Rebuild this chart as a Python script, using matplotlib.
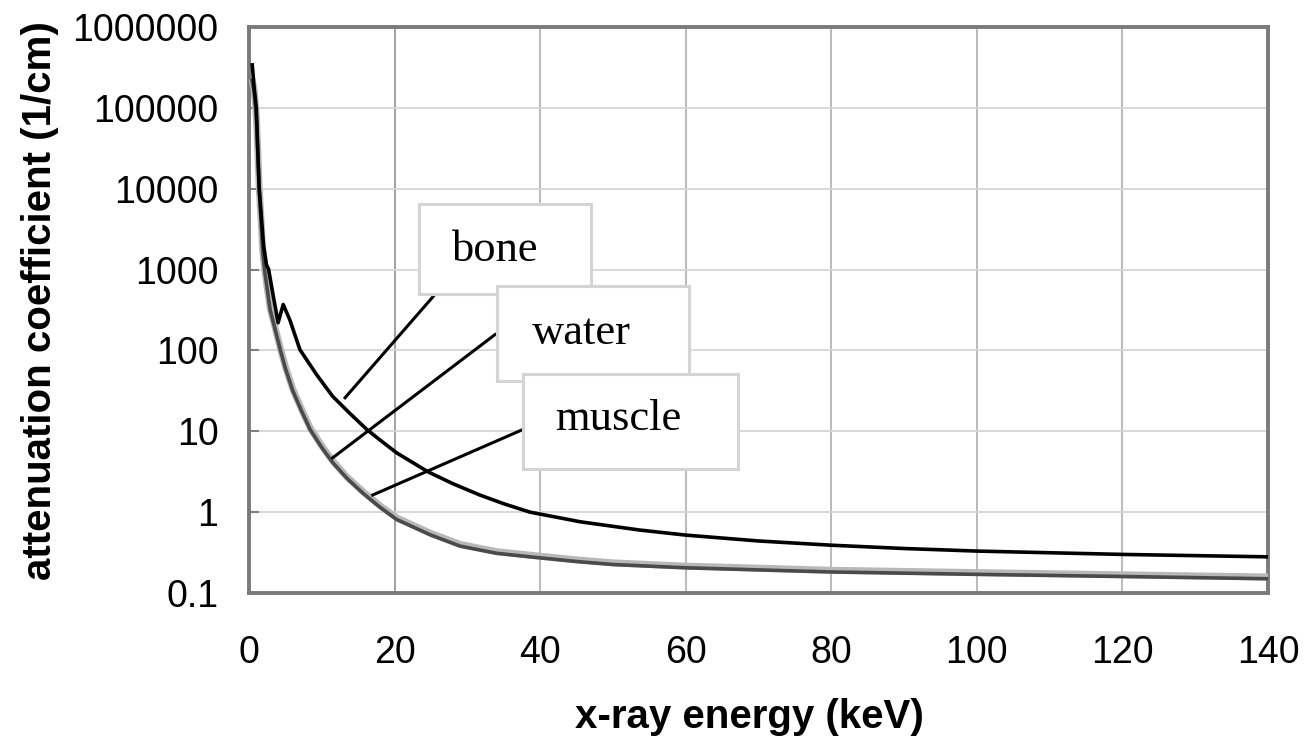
import matplotlib
matplotlib.use('Agg')
import matplotlib.pyplot as plt
from matplotlib.patches import Rectangle

plt.rcParams['font.family'] = ['Liberation Sans', 'DejaVu Sans']

# Attenuation coefficient (1/cm) vs photon energy (keV)
bone_E = [0.45, 0.7, 1.0, 1.4, 2.0, 2.4, 2.7, 3.3, 4.0, 4.7, 5.6, 7.0, 9.3, 11.5, 13.9, 16.2,
          18.0, 20.3, 24.6, 28.0, 31.7, 35.0, 38.6, 45.5, 53.7, 60, 70, 80, 90, 100, 120, 140]
bone_mu = [3.4e5, 1.8e5, 1.0e5, 1.0e4, 2000, 1150, 1000, 490, 220, 370, 240, 102, 50, 27, 16.5, 10.5,
           7.8, 5.4, 3.15, 2.25, 1.63, 1.27, 1.0, 0.76, 0.60, 0.52, 0.44, 0.39, 0.355, 0.33, 0.30, 0.28]

water_E = [0.4, 0.7, 1.0, 1.4, 1.9, 2.2, 2.9, 4.3, 5.0, 6.0, 7.2, 8.4, 10.0, 11.5, 13.5, 15.7,
           18.0, 20.3, 25, 29, 34, 38.6, 45, 50, 60, 70, 80, 100, 120, 140]
water_mu = [2.2e5, 1.6e5, 8.0e4, 1.0e4, 1600, 900, 320, 102, 60, 32, 18, 10.5, 6.3, 4.1, 2.6, 1.7,
            1.15, 0.81, 0.52, 0.38, 0.31, 0.28, 0.245, 0.225, 0.205, 0.193, 0.182, 0.17, 0.16, 0.15]
muscle_mu = [2.3e5, 1.7e5, 8.4e4, 1.05e4, 1680, 945, 335, 107, 63, 33.5, 18.9, 11, 6.6, 4.3, 2.7, 1.78,
             1.2, 0.85, 0.545, 0.4, 0.325, 0.294, 0.257, 0.236, 0.215, 0.203, 0.191, 0.179, 0.168, 0.158]

xticks = [0, 20, 40, 60, 80, 100, 120, 140]
yticks = [0.1, 1, 10, 100, 1000, 10000, 100000, 1000000]
ytick_labels = ['0.1', '1', '10', '100', '1000', '10000', '100000', '1000000']

fig = plt.figure(figsize=(13.05, 7.36), dpi=100)
ax = fig.add_axes([0.1908, 0.1943, 0.7809, 0.7690])

ax.plot(water_E, muscle_mu, color='#b8b8b8', lw=5, solid_capstyle='butt', zorder=3)
ax.plot(water_E, water_mu, color='#4a4a4a', lw=2.6, zorder=4)
ax.plot(bone_E, bone_mu, color='black', lw=2.6, zorder=5)

ax.set_yscale('log')
ax.set_xlim(0, 140)
ax.set_ylim(0.1, 1000000)
ax.set_xticks(xticks)
ax.set_xticklabels([str(t) for t in xticks])
ax.set_yticks(yticks)
ax.set_yticklabels(ytick_labels)
ax.minorticks_off()
ax.tick_params(axis='y', direction='in', length=7, width=1.5, color='#808080',
               labelsize=27, pad=22)
ax.tick_params(axis='x', length=0, labelsize=27, pad=30)

ax.grid(axis='y', color='#d6d6d6', lw=1.3, zorder=0)
ax.grid(axis='x', color='#a8a8a8', lw=1.1, zorder=0)
ax.axvline(20, color='#707070', lw=1.1, zorder=1)
for s in ax.spines.values():
    s.set_color('#7a7a7a')
    s.set_linewidth(2.8)

ax.set_xlabel('x-ray energy (keV)', fontsize=29, fontweight='bold', ha='center', va='center')
ax.set_ylabel('attenuation coefficient (1/cm)', fontsize=29, fontweight='bold',
              ha='center', va='center')
ax.xaxis.set_label_coords(0.4907, -0.2195)
ax.yaxis.set_label_coords(-0.205, 0.517)

# labelled boxes with leader lines to each curve
labels = ['bone', 'water', 'muscle']
boxes = [(0.1668, 0.5274, 0.1688, 0.1593),
         (0.2434, 0.3752, 0.1884, 0.1664),
         (0.2689, 0.2195, 0.2110, 0.1681)]
text_pos = [(0.1989, 0.5858), (0.2774, 0.4407), (0.3003, 0.2873)]
leaders = [((25.3, 464), (13.2, 26)),
           ((33.8, 157), (11.5, 4.7)),
           ((37.5, 10.4), (17.0, 1.63))]

for i, name in enumerate(labels):
    (x0, y0), (x1, y1) = leaders[i]
    ax.plot([x0, x1], [y0, y1], color='black', lw=2.2, zorder=6 + 3 * i)
    bx, by, bw, bh = boxes[i]
    ax.add_patch(Rectangle((bx, by), bw, bh, transform=ax.transAxes, facecolor='white',
                           edgecolor='#d4d4d4', lw=2.2, zorder=7 + 3 * i))
    ax.text(text_pos[i][0], text_pos[i][1], name, transform=ax.transAxes,
            family='Liberation Serif', fontsize=32, ha='left', va='baseline',
            zorder=8 + 3 * i)

fig.savefig('out.png', dpi=100)
